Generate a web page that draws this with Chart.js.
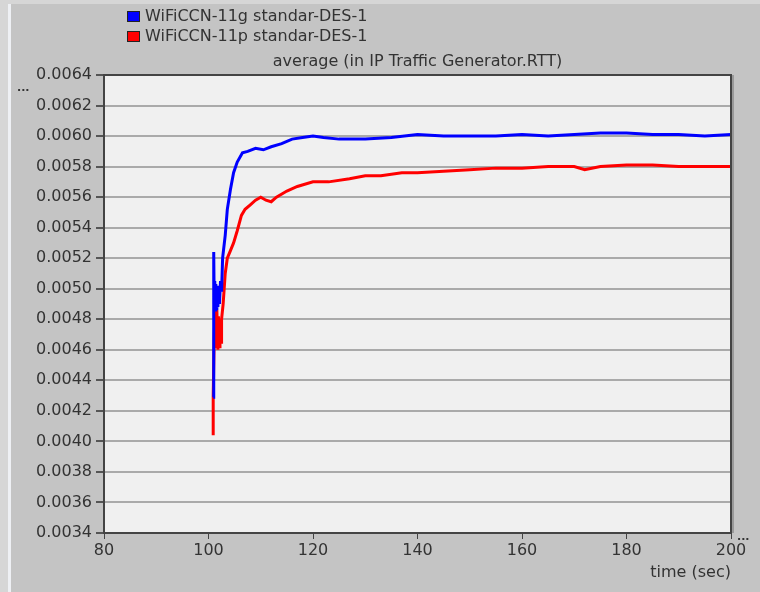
<!doctype html>
<html>
<head>
    <title>RTT</title>
    <script src="https://cdn.jsdelivr.net/npm/chart.js"></script>
    <style>
        body { margin: 0; background: #c4c4c4; }
        canvas { display: block; }
    </style>
</head>
<body>
    <canvas id="grafico" width="760" height="592"></canvas>

    <script>
        // time (sec) / average RTT
        var tempoG = [100.9, 101.0, 101.1, 101.2, 101.3, 101.4, 101.5, 101.6, 101.8, 101.9, 102.1, 102.3, 102.5, 102.7, 103.2, 103.6, 104.2, 104.8, 105.5, 106.5, 107.5, 109, 110.5, 112, 114, 116, 118, 120, 122, 125, 130, 135, 140, 145, 150, 155, 160, 165, 170, 175, 180, 185, 190, 195, 200];
        var rttG = [0.00429, 0.00524, 0.00488, 0.00505, 0.00486, 0.00503, 0.00487, 0.00500, 0.00488, 0.00502, 0.00490, 0.00505, 0.00498, 0.00520, 0.00535, 0.00552, 0.00565, 0.00576, 0.00583, 0.00589, 0.00590, 0.00592, 0.00591, 0.00593, 0.00595, 0.00598, 0.00599, 0.00600, 0.00599, 0.00598, 0.00598, 0.00599, 0.00601, 0.00600, 0.00600, 0.00600, 0.00601, 0.00600, 0.00601, 0.00602, 0.00602, 0.00601, 0.00601, 0.00600, 0.00601];

        var tempoP = [100.9, 100.9, 101.1, 101.3, 101.5, 101.6, 101.8, 101.9, 102.1, 102.2, 102.4, 102.5, 102.8, 103.2, 103.6, 104.2, 104.8, 105.5, 106.3, 107, 108, 109, 110, 111, 112, 113, 115, 117, 120, 123, 127, 130, 133, 137, 140, 145, 150, 155, 160, 165, 170, 172, 175, 180, 185, 190, 195, 200];
        var rttP = [0.00404, 0.00430, 0.00470, 0.00490, 0.00462, 0.00486, 0.00460, 0.00482, 0.00462, 0.00478, 0.00465, 0.00480, 0.00490, 0.00510, 0.00520, 0.00525, 0.00530, 0.00538, 0.00548, 0.00552, 0.00555, 0.00558, 0.00560, 0.00558, 0.00557, 0.00560, 0.00564, 0.00567, 0.00570, 0.00570, 0.00572, 0.00574, 0.00574, 0.00576, 0.00576, 0.00577, 0.00578, 0.00579, 0.00579, 0.00580, 0.00580, 0.00578, 0.00580, 0.00581, 0.00581, 0.00580, 0.00580, 0.00580];

        var nomes = ['WiFiCCN-11g standar-DES-1', 'WiFiCCN-11p standar-DES-1'];
        var cores = ['#0000ff', '#ff0000'];
        var titulo = 'average (in IP Traffic Generator.RTT)';

        function pontos(xs, ys) {
            return xs.map(function (x, i) { return { x: x, y: ys[i] }; });
        }

        var fonte = 'DejaVu Sans';
        var corTexto = '#333333';

        // fundo, moldura, legenda e titulo
        var moldura = {
            id: 'moldura',
            beforeDraw: function (chart) {
                var ctx = chart.ctx, a = chart.chartArea;
                ctx.save();
                ctx.fillStyle = '#c4c4c4';
                ctx.fillRect(0, 0, chart.width, chart.height);
                ctx.fillStyle = '#d6d6d6';
                ctx.fillRect(0, 0, 8, chart.height);
                ctx.fillRect(8, 0, chart.width, 4);
                ctx.fillStyle = '#eef0f4';
                ctx.fillRect(8, 4, 3, chart.height);
                ctx.fillStyle = '#f0f0f0';
                ctx.fillRect(a.left, a.top, a.right - a.left, a.bottom - a.top);
                ctx.restore();
            },
            afterDraw: function (chart) {
                var ctx = chart.ctx, a = chart.chartArea;
                ctx.save();
                ctx.strokeStyle = '#444444';
                ctx.lineWidth = 2;
                ctx.strokeRect(a.left, a.top, a.right - a.left, a.bottom - a.top);
                ctx.strokeStyle = '#9a9a9a';
                ctx.lineWidth = 2;
                ctx.beginPath();
                ctx.moveTo(a.right + 2, a.top);
                ctx.lineTo(a.right + 2, a.bottom);
                ctx.stroke();

                // legenda
                ctx.font = '16px ' + fonte;
                ctx.textBaseline = 'middle';
                chart.data.datasets.forEach(function (ds, i) {
                    var y = 17 + i * 20;
                    ctx.fillStyle = ds.borderColor;
                    ctx.fillRect(128, y - 5, 11, 9);
                    ctx.strokeStyle = '#222222';
                    ctx.lineWidth = 1;
                    ctx.strokeRect(127.5, y - 5.5, 12, 10);
                    ctx.fillStyle = corTexto;
                    ctx.textAlign = 'left';
                    ctx.fillText(ds.label, 145, y);
                });

                // titulo
                ctx.textAlign = 'center';
                ctx.fillStyle = corTexto;
                ctx.fillText(titulo, (a.left + a.right) / 2, 62);

                // reticencias
                ctx.font = 'bold 11px ' + fonte;
                ctx.textAlign = 'left';
                ctx.fillText('...', 17, 88);
                ctx.fillText('...', 737, 537);
                ctx.restore();
            }
        };

        var grafico = new Chart(document.getElementById('grafico').getContext('2d'), {
            type: 'line',
            data: {
                datasets: [{
                    label: nomes[0],
                    data: pontos(tempoG, rttG),
                    borderColor: cores[0],
                    backgroundColor: cores[0],
                    borderWidth: 3,
                    pointRadius: 0,
                    tension: 0
                }, {
                    label: nomes[1],
                    data: pontos(tempoP, rttP),
                    borderColor: cores[1],
                    backgroundColor: cores[1],
                    borderWidth: 3,
                    pointRadius: 0,
                    tension: 0
                }]
            },
            options: {
                responsive: false,
                animation: false,
                devicePixelRatio: 1,
                layout: {
                    padding: { top: 75, left: 10, right: 29, bottom: 0 }
                },
                plugins: {
                    legend: { display: false },
                    title: { display: false },
                    tooltip: { enabled: false }
                },
                scales: {
                    x: {
                        type: 'linear',
                        min: 80,
                        max: 200,
                        afterFit: function (s) { s.height = 59; },
                        grid: {
                            drawOnChartArea: false,
                            drawTicks: true,
                            tickLength: 6,
                            tickColor: '#444444'
                        },
                        border: { color: '#444444', width: 2 },
                        ticks: {
                            stepSize: 20,
                            padding: 2,
                            maxRotation: 0,
                            color: corTexto,
                            font: { family: fonte, size: 16 }
                        },
                        title: {
                            display: true,
                            text: 'time (sec)',
                            align: 'end',
                            color: corTexto,
                            font: { family: fonte, size: 16 },
                            padding: { top: 0, bottom: 10 }
                        }
                    },
                    y: {
                        min: 0.0034,
                        max: 0.0064,
                        afterFit: function (s) { s.width = 94; },
                        grid: {
                            color: '#aaaaaa',
                            lineWidth: 2,
                            tickLength: 8,
                            tickColor: '#555555'
                        },
                        border: { color: '#444444', width: 2 },
                        ticks: {
                            stepSize: 0.0002,
                            padding: 4,
                            color: corTexto,
                            font: { family: fonte, size: 16 },
                            callback: function (v) { return v.toFixed(4); }
                        }
                    }
                }
            },
            plugins: [moldura]
        });
    </script>
</body>
</html>
